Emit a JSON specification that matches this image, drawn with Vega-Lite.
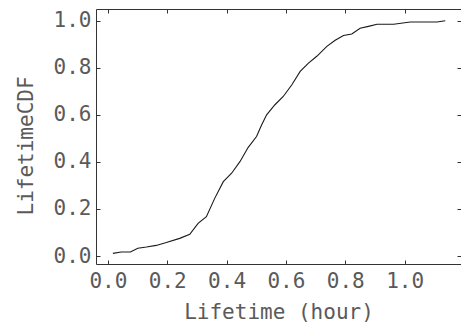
{
  "$schema": "https://vega.github.io/schema/vega-lite/v6.json",
  "width": 365,
  "height": 255,
  "autosize": {"type": "none"},
  "padding": {"left": 96, "top": 9, "right": 0, "bottom": 63},
  "background": "white",
  "config": {
    "view": {"stroke": "#333", "strokeWidth": 1},
    "axis": {
      "domain": false,
      "grid": false,
      "tickColor": "#333",
      "tickSize": -4,
      "labelFont": "DejaVu Sans Mono",
      "labelFontSize": 21,
      "labelColor": "#5a5a5a",
      "titleFont": "DejaVu Sans Mono",
      "titleFontSize": 21,
      "titleFontWeight": "normal",
      "titleColor": "#5a5a5a"
    }
  },
  "data": {
    "values": [
      {"x": 0.017, "y": 0.011},
      {"x": 0.045, "y": 0.017},
      {"x": 0.076, "y": 0.017},
      {"x": 0.101, "y": 0.033},
      {"x": 0.13, "y": 0.038},
      {"x": 0.163, "y": 0.045},
      {"x": 0.197, "y": 0.057},
      {"x": 0.242, "y": 0.075},
      {"x": 0.276, "y": 0.092},
      {"x": 0.304, "y": 0.139},
      {"x": 0.332, "y": 0.167},
      {"x": 0.36, "y": 0.245},
      {"x": 0.389, "y": 0.316},
      {"x": 0.417, "y": 0.352},
      {"x": 0.445, "y": 0.401},
      {"x": 0.473, "y": 0.462},
      {"x": 0.501, "y": 0.508},
      {"x": 0.518, "y": 0.557},
      {"x": 0.535, "y": 0.6},
      {"x": 0.563, "y": 0.643},
      {"x": 0.591, "y": 0.678},
      {"x": 0.62, "y": 0.728},
      {"x": 0.648, "y": 0.785},
      {"x": 0.676, "y": 0.82},
      {"x": 0.704, "y": 0.849},
      {"x": 0.738, "y": 0.891},
      {"x": 0.766, "y": 0.917},
      {"x": 0.794, "y": 0.937},
      {"x": 0.822, "y": 0.944},
      {"x": 0.85, "y": 0.968},
      {"x": 0.878, "y": 0.976},
      {"x": 0.907, "y": 0.985},
      {"x": 0.963, "y": 0.985},
      {"x": 1.019, "y": 0.995},
      {"x": 1.109, "y": 0.995},
      {"x": 1.137, "y": 1.0}
    ]
  },
  "layer": [
    {
      "mark": {"type": "line", "color": "#1a1a1a", "strokeWidth": 1.1},
      "encoding": {
        "x": {
          "field": "x", "type": "quantitative",
          "scale": {"domain": [-0.04, 1.19], "nice": false, "zero": false},
          "axis": {"orient": "bottom", "values": [0, 0.2, 0.4, 0.6, 0.8, 1.0], "format": ".1f", "title": "Lifetime (hour)", "labelPadding": 10, "titlePadding": 10}
        },
        "y": {
          "field": "y", "type": "quantitative",
          "scale": {"domain": [-0.034, 1.05], "nice": false, "zero": false},
          "axis": {"orient": "left", "values": [0, 0.2, 0.4, 0.6, 0.8, 1.0], "format": ".1f", "title": "LifetimeCDF", "labelPadding": 9, "titleAngle": -90, "titleAlign": "left", "titleBaseline": "bottom", "titleX": -60, "titleY": 206}
        }
      }
    },
    {
      "mark": {"type": "line", "opacity": 0},
      "encoding": {
        "x": {
          "field": "x", "type": "quantitative",
          "scale": {"domain": [-0.04, 1.19], "nice": false, "zero": false},
          "axis": {"orient": "top", "values": [0, 0.2, 0.4, 0.6, 0.8, 1.0], "labels": false, "title": null}
        },
        "y": {
          "field": "y", "type": "quantitative",
          "scale": {"domain": [-0.034, 1.05], "nice": false, "zero": false},
          "axis": {"orient": "right", "values": [0, 0.2, 0.4, 0.6, 0.8, 1.0], "labels": false, "title": null}
        }
      }
    }
  ],
  "resolve": {"axis": {"x": "independent", "y": "independent"}}
}
